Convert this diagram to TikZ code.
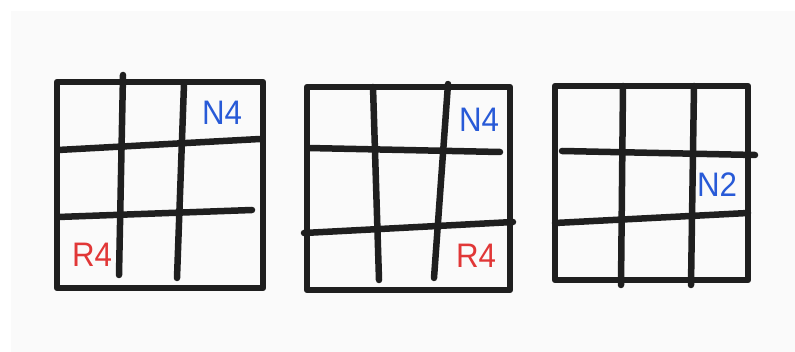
\documentclass[tikz,border=0pt]{standalone}
\usepackage{fontspec}
\setmainfont{Liberation Sans}
\begin{document}
\begin{tikzpicture}[x=1pt,y=-1pt,
  grid/.style={line width=6.5pt,draw=black!88,line cap=round,line join=round},
  lbl/.style={inner sep=0pt,font=\fontsize{34}{34}\selectfont,xscale=0.92},
  bluelbl/.style={lbl,text={rgb,255:red,40;green,90;blue,215}},
  redlbl/.style={lbl,text={rgb,255:red,225;green,55;blue,55}}]
\useasboundingbox (0,0) rectangle (795,352);
\fill[white] (0,0) rectangle (795,352);
\fill[black!2] (11,11) rectangle (795,352);
% grid 1
\draw[grid] (57,82) rectangle (263,288);
\draw[grid] (123,75) -- (119,275);
\draw[grid] (184,84) -- (177,278);
\draw[grid] (58,150) -- (260,139);
\draw[grid] (58,217) -- (252,210);
\node[bluelbl] (n1) at (222,113) {N4};
\node[redlbl] (r1) at (92,255) {R4};
% grid 2
\draw[grid] (307,87) rectangle (510,290);
\draw[grid] (373,87) -- (379,280);
\draw[grid] (448,84) -- (434,278);
\draw[grid] (308,148) -- (500,152);
\draw[grid] (304,233) -- (513,222);
\node[bluelbl] (n2) at (479,120) {N4};
\node[redlbl] (r2) at (476,256) {R4};
% grid 3
\draw[grid] (555,86) rectangle (748,280);
\draw[grid] (623,86) -- (621,285);
\draw[grid] (694,86) -- (691,285);
\draw[grid] (562,151) -- (755,155);
\draw[grid] (555,223) -- (748,213);
\node[bluelbl] (n3) at (717,185) {N2};
\end{tikzpicture}
\end{document}
